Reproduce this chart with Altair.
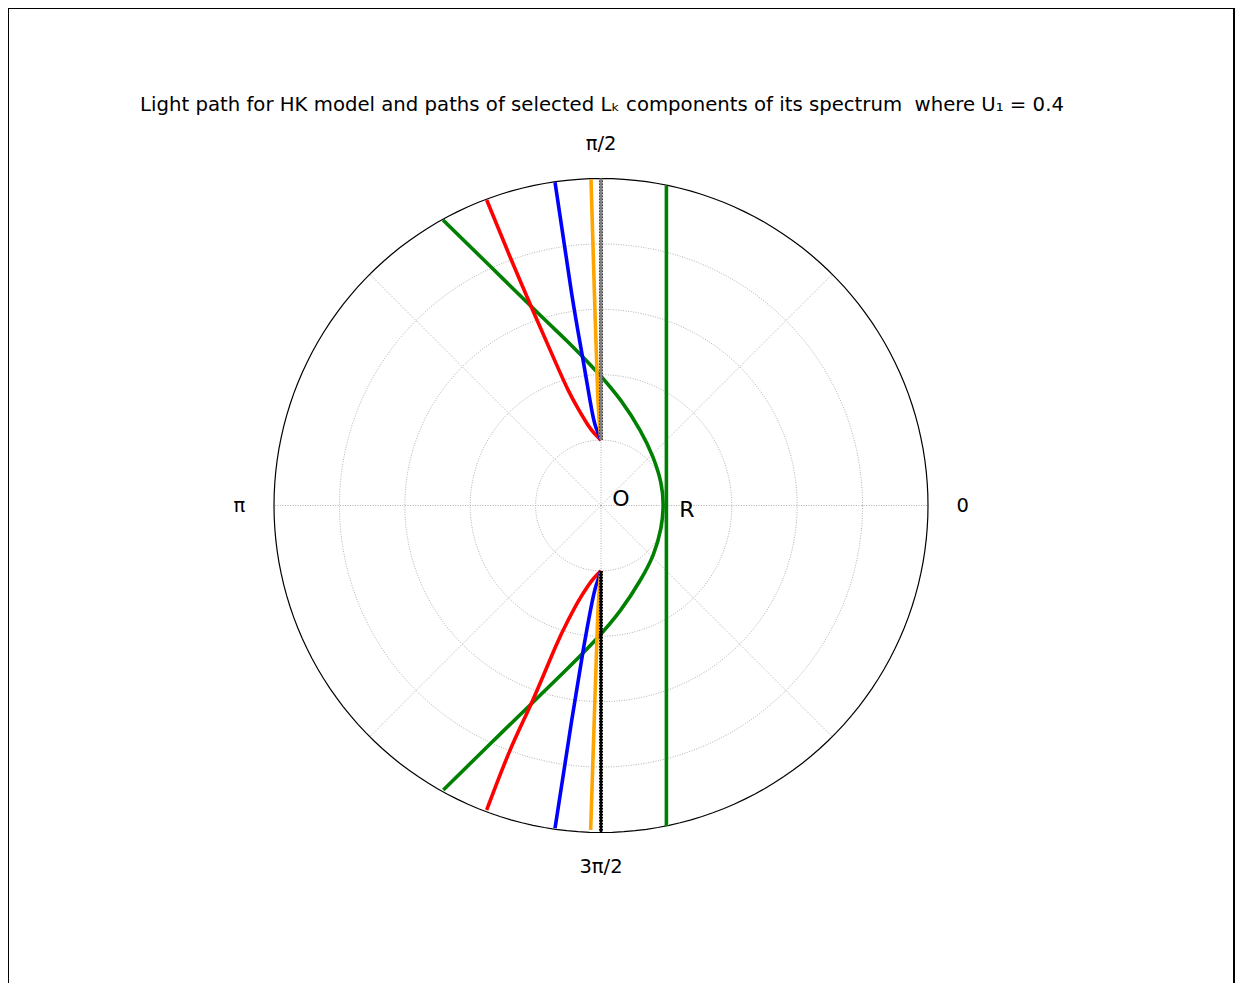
import altair as alt
import pandas as pd

# ---------------- data (cartesian, radial units; R = 1) ----------------
green_x = [-2.416, -1.685, -0.933, -0.504, -0.064, 0.308, 0.596, 0.79, 0.915, 0.950,
           0.915, 0.80, 0.596, 0.300, -0.07, -0.50, -0.95, -1.70, -2.411]
green_y = [4.365, 3.65, 2.913, 2.50, 2.046, 1.60, 1.154, 0.75, 0.35, 0.0,
           -0.35, -0.75, -1.15, -1.60, -2.04, -2.48, -2.92, -3.65, -4.350]

greenline_x = [1.0, 1.0]
greenline_y = [4.89, -4.90]

red_up_x = [0.0, -0.10, -0.20, -0.35, -0.50, -0.70, -1.045, -1.39, -1.748]
red_up_y = [1.0, 1.10, 1.23, 1.48, 1.76, 2.20, 2.99, 3.80, 4.671]
red_lo_x = [0.0, -0.10, -0.20, -0.35, -0.50, -0.70, -1.04, -1.39, -1.748]
red_lo_y = [-1.0, -1.10, -1.23, -1.47, -1.75, -2.17, -2.97, -3.74, -4.656]

blue_up_x = [0.0, -0.06, -0.13, -0.27, -0.45, -0.703]
blue_up_y = [1.0, 1.15, 1.40, 2.20, 3.25, 4.942]
blue_lo_x = [0.0, -0.05, -0.12, -0.27, -0.45, -0.703]
blue_lo_y = [-1.0, -1.15, -1.40, -2.20, -3.30, -4.936]

orange_up_x = [0.0, -0.02, -0.05, -0.09, -0.153]
orange_up_y = [1.0, 1.2, 1.7, 2.9, 4.99]
orange_lo_x = [0.0, -0.02, -0.05, -0.09, -0.158]
orange_lo_y = [-1.0, -1.2, -1.7, -2.87, -4.96]

gray_x = [0.0, 0.0]
gray_y = [1.0, 5.0]
black_x = [0.0, 0.0]
black_y = [-1.0, -5.0]

ring_radii = [1, 2, 3, 4]
outer_radius = [5]
spoke_degrees = [0, 45, 90, 135, 180, 225, 270, 315]
angle_labels = ["0", "π/2", "π", "3π/2"]
angle_label_degrees = [0, 90, 180, 270]

notes_text = ["O", "R"]
notes_x = [0.306, 1.315]
notes_y = [0.099, -0.069]

title_text = "Light path for HK model and paths of selected Lₖ components of its spectrum\u00a0 where U₁ = 0.4"

# ---------------- geometry of the page ----------------
W, H = 1227, 975
K = 65.4                      # px per radial unit
CX, CY = 593.0, 497.5         # centre in view px
xmin = -CX / K
xmax = xmin + W / K
ymax = CY / K
ymin = ymax - H / K

xs = alt.Scale(domain=[xmin, xmax], nice=False, zero=False)
ys = alt.Scale(domain=[ymin, ymax], nice=False, zero=False)
X = lambda f: alt.X(f, type="quantitative", scale=xs, axis=None)
Y = lambda f: alt.Y(f, type="quantitative", scale=ys, axis=None)


def series(xv, yv, seg):
    return pd.DataFrame({"x": xv, "y": yv, "seg": seg, "o": list(range(len(xv)))})


GRID = dict(stroke="#aaaaaa", strokeWidth=0.9, strokeDash=[1.0, 1.5])

# grid circles
grid_rows = [{"ring": r, "deg": d} for r in ring_radii for d in range(0, 361, 3)]
grid = alt.Chart(pd.DataFrame(grid_rows)).transform_calculate(
    x="datum.ring*cos(datum.deg*PI/180)", y="datum.ring*sin(datum.deg*PI/180)"
).mark_line(**GRID).encode(x=X("x"), y=Y("y"), detail="ring:N", order="deg:Q")

outer_rows = [{"ring": r, "deg": d} for r in outer_radius for d in range(0, 361, 2)]
outer = alt.Chart(pd.DataFrame(outer_rows)).transform_calculate(
    x="datum.ring*cos(datum.deg*PI/180)", y="datum.ring*sin(datum.deg*PI/180)"
).mark_line(stroke="black", strokeWidth=1.2).encode(
    x=X("x"), y=Y("y"), order="deg:Q")

spoke_rows = [{"deg": d, "r": r} for d in spoke_degrees for r in [0, 5]]
spokes = alt.Chart(pd.DataFrame(spoke_rows)).transform_calculate(
    x="datum.r*cos(datum.deg*PI/180)", y="datum.r*sin(datum.deg*PI/180)"
).mark_line(**GRID).encode(x=X("x"), y=Y("y"), detail="deg:N", order="r:Q")


def curve(df, color, width=3.6, dash=None, interp="natural"):
    kw = dict(stroke=color, strokeWidth=width, interpolate=interp)
    if dash:
        kw["strokeDash"] = dash
    return alt.Chart(df).mark_line(**kw).encode(
        x=X("x"), y=Y("y"), detail="seg:N", order="o:Q")


green = curve(series(green_x, green_y, "g"), "green")
greenline = curve(series(greenline_x, greenline_y, "gl"), "green", interp="linear")
red = curve(pd.concat([series(red_up_x, red_up_y, "u"), series(red_lo_x, red_lo_y, "l")]), "red")
blue = curve(pd.concat([series(blue_up_x, blue_up_y, "u"), series(blue_lo_x, blue_lo_y, "l")]), "blue")
orange = curve(pd.concat([series(orange_up_x, orange_up_y, "u"), series(orange_lo_x, orange_lo_y, "l")]), "orange")
black_dots = curve(pd.concat([series(black_x, black_y, "l"), series(gray_x, gray_y, "u")]),
                   "black", width=4.0, dash=[1.5, 1.5], interp="linear")
black_core = curve(series(black_x, black_y, "l"), "black", width=2.6, interp="linear")
gray = curve(series(gray_x, gray_y, "u"), "gray", width=3.0, interp="linear")

labels = alt.Chart(pd.DataFrame({"label": angle_labels, "deg": angle_label_degrees})).transform_calculate(
    x="5.53*cos(datum.deg*PI/180)", y="5.53*sin(datum.deg*PI/180)"
).mark_text(font="DejaVu Sans", fontSize=19.5, color="black", baseline="middle", align="center").encode(
    x=X("x"), y=Y("y"), text="label:N")

notes = alt.Chart(pd.DataFrame({"t": notes_text, "x": notes_x, "y": notes_y})).mark_text(
    font="DejaVu Sans", fontSize=22, color="black", baseline="middle", align="center").encode(
    x=X("x"), y=Y("y"), text="t:N")

title = alt.Chart(pd.DataFrame({"t": [title_text], "x": [0.015], "y": [6.125]})).mark_text(
    font="DejaVu Sans", fontSize=19.7, color="black", baseline="middle", align="center").encode(
    x=X("x"), y=Y("y"), text="t:N")

one = alt.Data(values=[{"a": 1}])
frame_top = alt.Chart(one).mark_rule(color="black", strokeWidth=2).encode(
    x=alt.value(0), x2=alt.value(W), y=alt.value(0))
frame_left = alt.Chart(one).mark_rule(color="black", strokeWidth=2).encode(
    x=alt.value(0), y=alt.value(0), y2=alt.value(H))
frame_right = alt.Chart(one).mark_rule(color="black", strokeWidth=2).encode(
    x=alt.value(W - 1), y=alt.value(0), y2=alt.value(H))

chart = alt.layer(
    grid, spokes, outer, greenline, green, red, blue, orange, black_dots, black_core, gray,
    labels, notes, title, frame_top, frame_left, frame_right
).properties(
    width=W, height=H, padding=0, autosize=alt.AutoSizeParams(type="none")
).configure_view(strokeWidth=0).configure(background="white")

chart.save("out.html", embed_options={"renderer": "svg", "actions": False})
